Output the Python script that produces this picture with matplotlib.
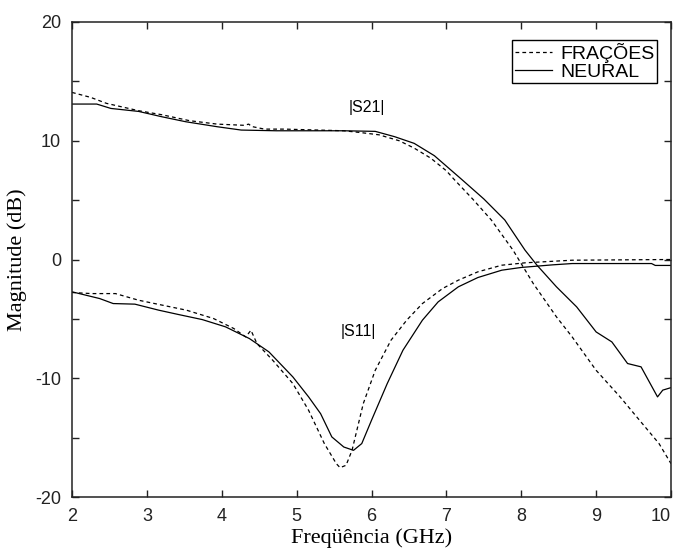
import numpy as np
import matplotlib
matplotlib.use("Agg")
import matplotlib.pyplot as plt

# |S21| curves (GHz, dB)
s21_neural_f = [2.0, 2.33, 2.52, 2.89, 3.2, 3.52, 3.94, 4.26, 4.73, 5.63, 6.05, 6.31,
                6.57, 6.84, 7.2, 7.5, 7.78, 8.05, 8.21, 8.47, 8.74, 9.0, 9.21, 9.42,
                9.6, 9.82, 9.89, 10.0]
s21_neural_db = [13.09, 13.09, 12.72, 12.47, 12.02, 11.6, 11.18, 10.9, 10.84, 10.84, 10.79,
                 10.34, 9.78, 8.74, 6.77, 5.1, 3.33, 0.79, -0.48, -2.3, -3.99, -6.1, -6.94,
                 -8.76, -9.04, -11.57, -11.0, -10.79]

s21_frac_f = [2.0, 2.25, 2.46, 2.89, 3.2, 3.57, 3.94, 4.3, 4.36, 4.4, 4.57, 4.84, 5.63,
              5.84, 6.1, 6.37, 6.57, 6.79, 7.0, 7.1, 7.35, 7.6, 7.89, 8.16, 8.47, 8.68,
              9.0, 9.32, 9.58, 9.84, 10.0]
s21_frac_db = [14.07, 13.65, 13.15, 12.53, 12.19, 11.69, 11.4, 11.3, 11.4, 11.2, 10.98,
               10.98, 10.84, 10.7, 10.5, 10.0, 9.38, 8.54, 7.47, 6.77, 5.1, 3.33, 0.79,
               -2.02, -4.83, -6.52, -9.33, -11.57, -13.54, -15.5, -17.19]

# |S11| curves (GHz, dB)
s11_neural_f = [2.0, 2.37, 2.55, 2.84, 3.16, 3.42, 3.74, 4.05, 4.37, 4.63, 4.95, 5.16,
                5.32, 5.47, 5.63, 5.76, 5.87, 6.0, 6.21, 6.42, 6.68, 6.89, 7.16, 7.42,
                7.74, 8.0, 8.42, 8.68, 9.74, 9.79, 10.0]
s11_neural_db = [-2.72, -3.29, -3.71, -3.76, -4.27, -4.63, -5.06, -5.67, -6.66, -7.78,
                 -9.89, -11.57, -12.98, -14.94, -15.79, -16.07, -15.5, -13.54, -10.45,
                 -7.64, -5.11, -3.57, -2.3, -1.52, -0.9, -0.67, -0.45, -0.34, -0.34,
                 -0.5, -0.5]

s11_frac_f = [2.0, 2.26, 2.58, 2.89, 3.21, 3.53, 3.89, 4.16, 4.32, 4.39, 4.47, 4.68,
              4.95, 5.16, 5.37, 5.53, 5.58, 5.66, 5.74, 5.89, 6.05, 6.26, 6.47, 6.68,
              6.95, 7.16, 7.42, 7.74, 8.05, 8.68, 10.0]
s11_frac_db = [-2.78, -2.87, -2.87, -3.43, -3.85, -4.27, -4.97, -5.81, -6.52, -5.96,
               -7.08, -8.48, -10.45, -12.7, -15.5, -17.19, -17.53, -17.33, -16.07,
               -12.14, -9.33, -6.8, -5.11, -3.71, -2.44, -1.74, -1.04, -0.48, -0.28,
               -0.06, 0.0]

sans = ['Liberation Sans', 'DejaVu Sans']
serif = ['Liberation Serif', 'DejaVu Serif']

fig = plt.figure(figsize=(6.77, 5.52), dpi=100)
ax = fig.add_axes([72 / 677, 55 / 552, 599 / 677, 475 / 552])

dash = dict(color='black', lw=0.9, linestyle=(0, (3, 2.5)))
solid = dict(color='black', lw=0.9)

ax.plot(s21_frac_f, s21_frac_db, label='FRAÇÕES', **dash)
ax.plot(s21_neural_f, s21_neural_db, label='NEURAL', **solid)
ax.plot(s11_frac_f, s11_frac_db, **dash)
ax.plot(s11_neural_f, s11_neural_db, **solid)

ax.set_xlim(2, 10)
ax.set_ylim(-20, 20)
ax.set_xticks(np.arange(2, 11, 1))
yt = np.arange(-20, 21, 5)
ax.set_yticks(yt)
ax.set_yticklabels([str(v) if v % 10 == 0 else '' for v in yt])
ax.tick_params(direction='in', length=5, width=1, top=True, right=True,
               labelsize=13, pad=8, colors='#222222')
for lab in ax.get_xticklabels() + ax.get_yticklabels():
    lab.set_family(sans)
# keep the last x label inside the figure
ax.get_xticklabels()[-1].set_horizontalalignment('right')
for sp in ax.spines.values():
    sp.set_linewidth(1.1)
    sp.set_color('#222222')

ax.set_xlabel('Freqüência (GHz)', family=serif, fontsize=16, labelpad=2)
ax.set_ylabel('Magnitude (dB)', family=serif, fontsize=16, labelpad=6)

ax.text(5.94, 12.84, '|S21|', family=sans, fontsize=11.5, ha='center', va='center')
ax.text(5.83, -6.1, '|S11|', family=sans, fontsize=11.5, ha='center', va='center')

leg = ax.legend(loc='upper right', bbox_to_anchor=(0.977, 0.962), borderaxespad=0,
                prop={'family': sans, 'size': 14}, fancybox=False, framealpha=1,
                edgecolor='black', handlelength=1.9, handletextpad=0.4,
                borderpad=0.15, labelspacing=0.0)
leg.get_frame().set_linewidth(1.0)

fig.savefig('out.png', dpi=100)
